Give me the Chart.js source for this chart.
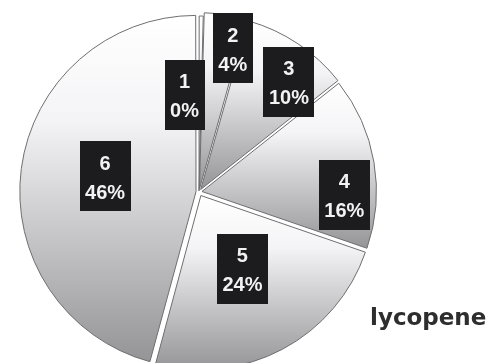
<!DOCTYPE html>
<html>
<head>
<meta charset="utf-8">
<title>lycopene</title>
<script src="https://cdn.jsdelivr.net/npm/chart.js@4/dist/chart.umd.min.js"></script>
<style>
  body { margin: 0; background: #fff; }
  #pie { display: block; }
</style>
</head>
<body>
<canvas id="pie" width="495" height="363"></canvas>
<script>
// slice names and their shares in percent
const sliceLabels = ['1', '2', '3', '4', '5', '6'];
const sliceValues = [0.4, 4, 10, 16, 24, 46];
const chartName = 'lycopene';

// where each black tag sits: fraction of the radius, and a small turn in degrees
const tagRadius = [0.55, 0.83, 0.8, 0.83, 0.52, 0.55];
const tagTurn = [-10, 4.5, 6, 12, 0, 0];
// chart.js moves an arc by a quarter of its offset
const sliceOffset = [4, 12, 12, 12, 16, 12];

const RADIUS = 174;

// vertical white-to-grey fill, fitted to the height of each slice
function sliceFill(context) {
    const chart = context.chart;
    const area = chart.chartArea;
    if (!area) return '#ddd';
    const i = context.dataIndex;
    const total = sliceValues.reduce((a, b) => a + b, 0);
    let before = 0;
    for (let k = 0; k < i; k++) before += sliceValues[k];
    const a0 = -Math.PI / 2 + 2 * Math.PI * before / total;
    const a1 = a0 + 2 * Math.PI * sliceValues[i] / total;
    const cy = (area.top + area.bottom) / 2;
    let top = cy, bottom = cy;
    for (let s = 0; s <= 40; s++) {
        const y = cy + Math.sin(a0 + (a1 - a0) * s / 40) * RADIUS;
        top = Math.min(top, y);
        bottom = Math.max(bottom, y);
    }
    const g = chart.ctx.createLinearGradient(0, top, 0, bottom);
    g.addColorStop(0, '#ffffff');
    g.addColorStop(0.3, '#f4f4f6');
    g.addColorStop(1, '#959597');
    return g;
}

const tagPlugin = {
    id: 'tags',
    afterDatasetsDraw(chart) {
        const ctx = chart.ctx;
        const meta = chart.getDatasetMeta(0);
        const total = sliceValues.reduce((a, b) => a + b, 0);
        ctx.save();
        ctx.font = 'bold 20px "Liberation Sans", Arial, sans-serif';
        ctx.textAlign = 'center';
        ctx.textBaseline = 'middle';
        meta.data.forEach((arc, i) => {
            const p = arc.getProps(['x', 'y', 'startAngle', 'endAngle', 'outerRadius'], true);
            const mid = (p.startAngle + p.endAngle) / 2 + tagTurn[i] * Math.PI / 180;
            const r = p.outerRadius * tagRadius[i];
            const cx = p.x + 1 + Math.cos(mid) * r;
            const cy = p.y - 3 + Math.sin(mid) * r;
            const pct = Math.round(sliceValues[i] / total * 100) + '%';
            const w = Math.max(ctx.measureText(pct).width, ctx.measureText(sliceLabels[i]).width) + 11;
            const h = 70;
            ctx.fillStyle = '#1c1c1e';
            ctx.fillRect(Math.round(cx - w / 2), Math.round(cy - h / 2), Math.round(w), h);
            ctx.fillStyle = '#f2f2f2';
            ctx.fillText(sliceLabels[i], cx, cy - 12);
            ctx.fillText(pct, cx, cy + 17);
        });
        ctx.font = 'bold 23px "DejaVu Sans", sans-serif';
        ctx.textAlign = 'left';
        ctx.textBaseline = 'alphabetic';
        ctx.fillStyle = '#2e2e2e';
        ctx.fillText(chartName, 370, 325);
        ctx.restore();
    }
};

new Chart(document.getElementById('pie'), {
    type: 'pie',
    data: {
        labels: sliceLabels,
        datasets: [{
            data: sliceValues,
            backgroundColor: sliceFill,
            borderColor: '#6e6e70',
            borderWidth: 1,
            offset: sliceOffset,
            radius: RADIUS
        }]
    },
    options: {
        responsive: false,
        animation: false,
        layout: { padding: { left: 20, right: 117, top: 21, bottom: 0 } },
        plugins: {
            legend: { display: false },
            tooltip: { enabled: false }
        }
    },
    plugins: [tagPlugin]
});
</script>
</body>
</html>
